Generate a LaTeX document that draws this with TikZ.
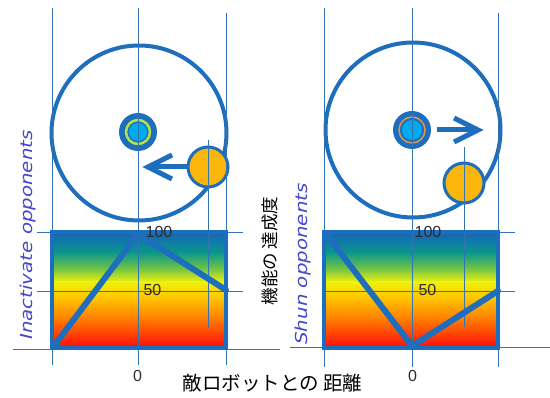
\documentclass[tikz,border=0pt]{standalone}
\usepackage{fontspec}
\setmainfont{Liberation Sans}
\newfontfamily\jpfont{Noto Sans CJK JP}
\newfontfamily\labfont[FakeStretch=1.2]{DejaVu Sans Oblique}
\usetikzlibrary{calc}
\definecolor{mainblue}{RGB}{30,110,190}
\definecolor{thinblue}{RGB}{50,115,180}
\definecolor{oppfill}{RGB}{250,182,10}
\definecolor{tgtcyan}{RGB}{0,170,240}
\definecolor{ringgreen}{RGB}{175,228,70}
\definecolor{ringorange}{RGB}{225,150,70}
\definecolor{labblue}{RGB}{70,70,205}
\definecolor{numgray}{RGB}{45,45,45}
\definecolor{ga}{RGB}{25,100,180}
\definecolor{gab}{RGB}{15,125,165}
\definecolor{gb}{RGB}{10,150,140}
\definecolor{gc}{RGB}{110,195,70}
\definecolor{gd}{RGB}{240,240,10}
\definecolor{ge}{RGB}{255,195,0}
\definecolor{gf}{RGB}{255,120,0}
\definecolor{gg}{RGB}{255,10,10}
\tikzset{
  bigring/.style={circle, draw=mainblue, line width=4pt, inner sep=0pt, minimum size=175pt},
  tgtdisk/.style={circle, fill=mainblue, inner sep=0pt, minimum size=38pt},
  oppdisk/.style={circle, draw=mainblue, fill=oppfill, line width=3pt, inner sep=0pt, minimum size=40pt},
  arrowline/.style={draw=mainblue, line width=5pt, line join=miter},
  thinline/.style={draw=thinblue, line width=0.9pt},
  chartline/.style={draw=mainblue, line width=6pt, line join=round, line cap=round},
  chartbox/.style={draw=mainblue, line width=4.5pt},
  numlab/.style={inner sep=0pt, text=numgray, font=\fontsize{16}{18}\selectfont},
  sidelab/.style={inner sep=0pt, text=labblue, font=\labfont\fontsize{16.5}{20}\selectfont},
  jplab/.style={inner sep=0pt, text=black, font=\jpfont\fontsize{17.5}{20}\selectfont},
  jplabbig/.style={inner sep=0pt, text=black, font=\jpfont\fontsize{19.5}{22}\selectfont}
}
\begin{document}
\begin{tikzpicture}[x=1pt,y=-1pt]
\useasboundingbox[fill=white] (0,0) rectangle (550,398);

% ---------- left panel: circles ----------
\node[bigring] (lring) at (139,133) {};
\node[tgtdisk] (ltgt) at (138,132) {};
\draw[ringgreen, line width=2.5pt] (ltgt.center) circle (12pt);
\fill[tgtcyan] (ltgt.center) circle (9pt);
\node[oppdisk] (lopp) at (208,167) {};
\coordinate (ltip) at (148,167);
\draw[arrowline] (lopp.west) -- (ltip);
\draw[arrowline] ($(ltip)+(24,-12)$) -- (ltip) -- ($(ltip)+(24,12)$);

% ---------- right panel: circles ----------
\node[bigring] (rring) at (413,130) {};
\node[tgtdisk] (rtgt) at (412,130) {};
\draw[ringorange, line width=1.5pt] (rtgt.center) circle (13pt);
\fill[tgtcyan] (rtgt.center) circle (10pt);
\node[oppdisk] (ropp) at (464,183) {};
\coordinate (rtip) at (478,130);
\draw[arrowline] ($(rtgt.east)+(6,0)$) -- (rtip);
\draw[arrowline] ($(rtip)+(-24,-12)$) -- (rtip) -- ($(rtip)+(-24,12)$);

% ---------- gradient charts ----------
\foreach \ox in {0,272}{
  \begin{scope}[xshift=\ox pt]
    \fill[top color=ga, bottom color=gab] (52,232) rectangle (226,242.5);
    \fill[top color=gab, bottom color=gb] (52,242) rectangle (226,252.5);
    \fill[top color=gb, bottom color=gc] (52,252) rectangle (226,268.5);
    \fill[top color=gc, bottom color=gd] (52,268) rectangle (226,282.5);
    \fill[top color=gd, bottom color=ge] (52,282) rectangle (226,298.5);
    \fill[top color=ge, bottom color=gf] (52,298) rectangle (226,320.5);
    \fill[top color=gf, bottom color=gg] (52,320) rectangle (226,348);
  \end{scope}
}

% ---------- thin guide lines ----------
\coordinate (lv1t) at (52,8);   \coordinate (lv1b) at (52,365);
\coordinate (lv2t) at (138,8);  \coordinate (lv2b) at (138,365);
\coordinate (lv3t) at (226,13); \coordinate (lv3b) at (226,365);
\coordinate (lv4t) at (208,140); \coordinate (lv4b) at (208,328);
\coordinate (rv1t) at (324,8);   \coordinate (rv1b) at (324,367);
\coordinate (rv2t) at (412,8);   \coordinate (rv2b) at (412,367);
\coordinate (rv3t) at (498,13);  \coordinate (rv3b) at (498,367);
\coordinate (rv4t) at (464,147); \coordinate (rv4b) at (464,327);
\foreach \a in {lv1,lv2,lv3,lv4,rv1,rv2,rv3,rv4}{
  \draw[thinline] (\a t) -- (\a b);
}
\coordinate (lh1a) at (37,232);  \coordinate (lh1b) at (243,232);
\coordinate (lh2a) at (37,291);  \coordinate (lh2b) at (243,291);
\coordinate (lh3a) at (13,349);  \coordinate (lh3b) at (280,349);
\coordinate (rh1a) at (324,232); \coordinate (rh1b) at (515,232);
\coordinate (rh2a) at (324,291); \coordinate (rh2b) at (515,291);
\coordinate (rh3a) at (290,347); \coordinate (rh3b) at (550,347);
\foreach \a in {lh1,lh2,lh3,rh1,rh2,rh3}{
  \draw[thinline] (\a a) -- (\a b);
}

% ---------- chart curves and frames ----------
\coordinate (lp1) at (54,346);  \coordinate (lp2) at (138,234); \coordinate (lp3) at (226,290);
\draw[chartline] (lp1) -- (lp2) -- (lp3);
\coordinate (rp1) at (326,234); \coordinate (rp2) at (412,346); \coordinate (rp3) at (498,291);
\draw[chartline] (rp1) -- (rp2) -- (rp3);
\draw[chartbox] (52,232) rectangle (226,348);
\draw[chartbox] (324,232) rectangle (498,348);

% ---------- labels ----------
\node[numlab] (l100) at (159,232) {100};
\node[numlab] (l50) at (152.5,290) {50};
\node[numlab] (l0) at (137.5,376) {0};
\node[numlab] (r100) at (428,232) {100};
\node[numlab] (r50) at (427.5,290) {50};
\node[numlab] (r0) at (412.5,376) {0};

\node[sidelab, rotate=90] (linact) at (28,235) {Inactivate opponents};
\node[sidelab, rotate=90] (rshun) at (303,264) {Shun opponents};
\node[jplab, rotate=90] (jy) at (270,251) {機能の 達成度};
\node[jplabbig] (jx) at (272.5,383) {敵ロボットとの 距離};
\end{tikzpicture}
\end{document}
